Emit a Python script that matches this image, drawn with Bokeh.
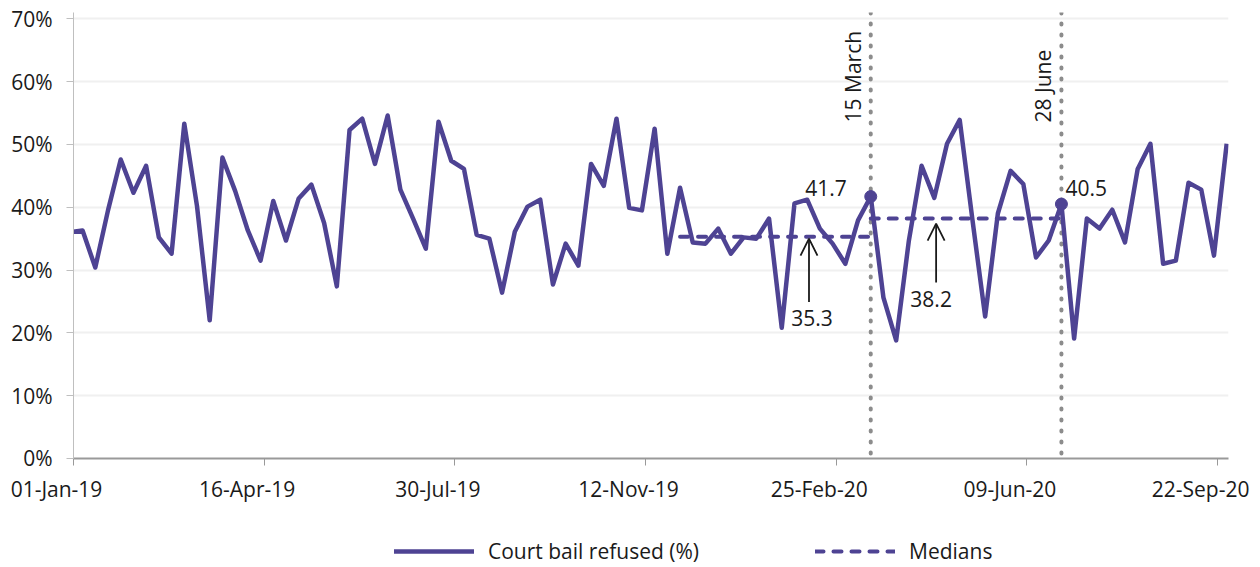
import datetime as dt
from bokeh.plotting import figure
from bokeh.models import (Range1d, FixedTicker, PrintfTickFormatter, CustomJSTickFormatter,
                          Legend, LegendItem, Arrow, OpenHead, Label, Span)
from bokeh.embed import file_html
from bokeh.resources import INLINE

# ---------------- data ----------------
first_week = "2018-12-30"  # weekly points (week ending Sundays)
bail_refused_pct = [
    36.0, 36.3, 30.4, 39.5, 47.6, 42.3, 46.6, 35.2, 32.6, 53.3,
    40.2, 22.0, 47.9, 42.6, 36.3, 31.5, 41.0, 34.7, 41.4, 43.6,
    37.5, 27.4, 52.3, 54.1, 46.9, 54.6, 42.8, 38.2, 33.4, 53.6,
    47.4, 46.1, 35.6, 35.0, 26.4, 36.1, 40.1, 41.2, 27.7, 34.2,
    30.7, 46.9, 43.4, 54.1, 39.9, 39.5, 52.5, 32.6, 43.1, 34.4,
    34.2, 36.6, 32.6, 35.2, 35.0, 38.2, 20.8, 40.6, 41.2, 36.6,
    34.2, 31.0, 37.9, 41.7, 25.6, 18.8, 34.7, 46.6, 41.5, 50.1,
    53.9, 38.0, 22.6, 39.0, 45.8, 43.7, 32.0, 34.7, 40.5, 19.1,
    38.2, 36.6, 39.6, 34.4, 46.1, 50.1, 31.0, 31.5, 43.9, 42.8,
    32.3, 50.1,
]
median_starts = ["2019-12-01", "2020-03-15"]
median_ends = ["2020-03-15", "2020-06-28"]
median_values = [35.3, 38.2]
event_dates = ["2020-03-15", "2020-06-28"]
event_names = ["15 March", "28 June"]
event_values = [41.7, 40.5]
x_tick_dates = ["2019-01-01", "2019-04-16", "2019-07-30", "2019-11-12",
                "2020-02-25", "2020-06-09", "2020-09-22"]
x_tick_labels = ["01-Jan-19", "16-Apr-19", "30-Jul-19", "12-Nov-19",
                 "25-Feb-20", "09-Jun-20", "22-Sep-20"]
y_ticks = [0, 10, 20, 30, 40, 50, 60, 70]

EPOCH = dt.datetime(1970, 1, 1)


def ms(s):
    return (dt.datetime.fromisoformat(s) - EPOCH).total_seconds() * 1000.0


DAY = 86400000.0
week_x = [ms(first_week) + 7 * DAY * i for i in range(len(bail_refused_pct))]
tick_ms = [ms(d) for d in x_tick_dates]
X0, X1 = ms("2019-01-01"), ms("2020-09-28")

FONT = "Open Sans"
FS = "21px"
PURPLE = "#4e4393"
TEXT = "#1a1a1a"
GREY_DOT = "#8c8c8c"

# ---------------- main plot ----------------
p = figure(width=1260, height=471, x_axis_type="datetime",
           x_range=Range1d(X0, X1), y_range=Range1d(0, 71),
           output_backend="svg", toolbar_location=None,
           min_border_left=73, min_border_right=32, min_border_top=12,
           min_border_bottom=13)
p.outline_line_color = None
p.background_fill_color = "white"
p.border_fill_color = "white"

p.xgrid.grid_line_color = None
p.ygrid.ticker = FixedTicker(ticks=y_ticks)
p.ygrid.grid_line_color = "#f0f0f0"
p.ygrid.grid_line_width = 2

p.yaxis.ticker = FixedTicker(ticks=y_ticks)
p.yaxis.formatter = PrintfTickFormatter(format="%d%%")
p.yaxis.major_tick_out = 7
p.yaxis.major_tick_in = 0
p.yaxis.minor_tick_line_color = None
p.yaxis.axis_line_color = "#bfbfbf"
p.yaxis.major_tick_line_color = "#bfbfbf"
p.yaxis.major_label_standoff = 14
p.yaxis.major_label_text_font = FONT
p.yaxis.major_label_text_font_size = FS
p.yaxis.major_label_text_color = TEXT

# x axis of the main plot: line + ticks (labels are on the strip below)
p.xaxis.ticker = FixedTicker(ticks=tick_ms)
p.xaxis.formatter = CustomJSTickFormatter(code="return '';")
p.xaxis.major_label_text_font_size = "0px"
p.xaxis.major_tick_out = 7
p.xaxis.major_tick_in = 0
p.xaxis.minor_tick_line_color = None
p.xaxis.axis_line_color = "#999999"
p.xaxis.axis_line_width = 2
p.xaxis.major_tick_line_color = "#999999"
p.xaxis.major_label_standoff = 0

for d in event_dates:
    p.add_layout(Span(location=ms(d), dimension="height", line_color=GREY_DOT,
                      line_width=4, line_dash="1 10", line_cap="round", level="underlay"))

p.line(week_x, bail_refused_pct, line_color=PURPLE, line_width=4.5, line_join="round")
p.multi_line(xs=[[ms(s), ms(e)] for s, e in zip(median_starts, median_ends)],
             ys=[[v, v] for v in median_values],
             line_color=PURPLE, line_width=4, line_dash="8 10", line_cap="round")
p.scatter([ms(d) for d in event_dates], event_values, size=12, color=PURPLE)

for d, name in zip(event_dates, event_names):
    p.add_layout(Label(x=ms(d), y=53.5, text=name, angle=90, angle_units="deg",
                       x_offset=-18, text_align="left", text_baseline="alphabetic",
                       text_font=FONT, text_font_size=FS, text_color=TEXT))

p.add_layout(Label(x=ms(event_dates[0]), y=43.1, text=f"{event_values[0]}", x_offset=-24,
                   text_align="right", text_baseline="alphabetic",
                   text_font=FONT, text_font_size=FS, text_color=TEXT))
p.add_layout(Label(x=ms(event_dates[1]), y=43.1, text=f"{event_values[1]}", x_offset=4,
                   text_align="left", text_baseline="alphabetic",
                   text_font=FONT, text_font_size=FS, text_color=TEXT))

arrow_dates = ["2020-02-10", "2020-04-20"]
arrow_tails = [24.9, 28.0]
arrow_tips = [35.0, 37.4]
label_y = [22.43, 25.34]
label_dx = [3, -5]
for d, y0, y1, ly, dx, mv in zip(arrow_dates, arrow_tails, arrow_tips, label_y, label_dx, median_values):
    p.add_layout(Arrow(end=OpenHead(size=17, line_width=1.8, line_color=TEXT),
                       x_start=ms(d), y_start=y0, x_end=ms(d), y_end=y1,
                       line_width=1.8, line_color=TEXT))
    p.add_layout(Label(x=ms(d), y=ly, text=f"{mv}", x_offset=dx,
                       text_align="center", text_baseline="alphabetic",
                       text_font=FONT, text_font_size=FS, text_color=TEXT))

# ---------------- strip below: date labels + legend ----------------
# same time scale as the main plot, frame moved 17px left so that the date
# labels sit a little left of their ticks, as in the original
p2 = figure(width=1260, height=96, x_axis_type="datetime", x_axis_location="above",
            y_axis_location=None, x_range=Range1d(X0, X1), y_range=Range1d(0, 1),
            output_backend="svg", toolbar_location=None,
            min_border_left=56, min_border_right=49, min_border_top=0, min_border_bottom=0)
p2.outline_line_color = None
p2.grid.grid_line_color = None
p2.background_fill_color = "white"
p2.border_fill_color = "white"
ax = p2.xaxis[0]
ax.ticker = FixedTicker(ticks=tick_ms)
ax.formatter = CustomJSTickFormatter(
    args=dict(tvals=tick_ms, tlabels=x_tick_labels),
    code="""
let best = 0;
for (let i = 0; i < tvals.length; i++) {
  if (Math.abs(tvals[i] - tick) < Math.abs(tvals[best] - tick)) best = i;
}
return tlabels[best];
""")
ax.axis_line_color = None
ax.major_tick_line_color = None
ax.minor_tick_line_color = None
ax.major_tick_out = 0
ax.major_tick_in = 0
ax.major_label_standoff = 0
ax.major_label_text_font = FONT
ax.major_label_text_font_size = FS
ax.major_label_text_color = TEXT

leg_line = p2.line([X0, X1], [-5, -5], line_color=PURPLE, line_width=4.5, line_cap="round")
leg_med = p2.line([X0, X1], [-5, -5], line_color=PURPLE, line_width=4,
                  line_dash="8 10", line_cap="round")
legend = Legend(items=[LegendItem(label="Court bail refused (%)", renderers=[leg_line]),
                       LegendItem(label="Medians", renderers=[leg_med])],
                location=(338, 2), orientation="horizontal",
                glyph_width=80, glyph_height=20, label_standoff=14,
                label_width=215, spacing=112, padding=0, margin=0,
                border_line_color=None, background_fill_alpha=0,
                label_text_font=FONT, label_text_font_size=FS,
                label_text_color=TEXT)
p2.add_layout(legend)

open("out.html", "w").write(file_html([p, p2], INLINE))
